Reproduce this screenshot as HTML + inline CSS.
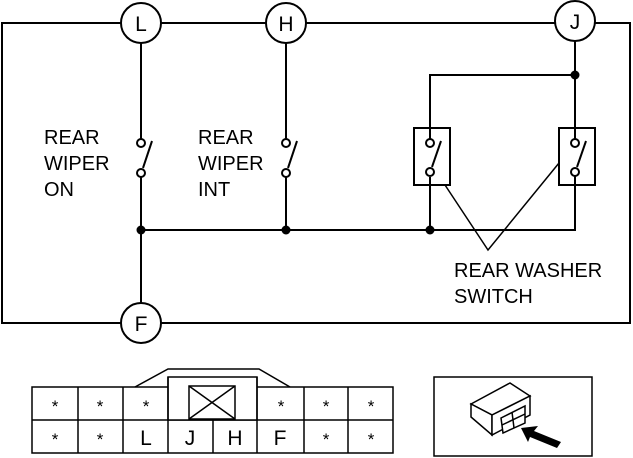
<!DOCTYPE html>
<html><head><style>body{margin:0;background:#fff}svg{display:block}text{font-family:"Liberation Sans",sans-serif;fill:#000}</style></head><body>
<svg width="633" height="458" viewBox="0 0 633 458" xmlns="http://www.w3.org/2000/svg">
<g stroke="#000" stroke-width="2" fill="none">
<rect x="2" y="23" width="628" height="300"/>
<line x1="141" y1="23" x2="141" y2="139"/>
<circle cx="141" cy="143" r="4" fill="#fff"/>
<circle cx="141" cy="173" r="4" fill="#fff"/>
<line x1="143" y1="168" x2="152" y2="141"/>
<line x1="141" y1="177" x2="141" y2="323"/>
<line x1="286" y1="23" x2="286" y2="139"/>
<circle cx="286" cy="143" r="4" fill="#fff"/>
<circle cx="286" cy="173" r="4" fill="#fff"/>
<line x1="288" y1="168" x2="297" y2="141"/>
<line x1="286" y1="177" x2="286" y2="230"/>
<polyline points="141,230 575,230 575,189"/>
<polyline points="575,23 575,139"/>
<polyline points="575,75 430,75 430,139"/>
<line x1="430" y1="177" x2="430" y2="230"/>
<rect x="414" y="128" width="36" height="57"/>
<rect x="559" y="128" width="36" height="57"/>
<circle cx="430" cy="143" r="4" fill="#fff"/>
<circle cx="430" cy="172" r="4" fill="#fff"/>
<line x1="432" y1="167" x2="441" y2="141"/>
<circle cx="575" cy="143" r="4" fill="#fff"/>
<circle cx="575" cy="172" r="4" fill="#fff"/>
<line x1="577" y1="167" x2="586" y2="141"/>
<line x1="575" y1="176" x2="575" y2="189"/>
<polyline points="445,185 488,250 559,163" stroke-width="1.5"/>
<circle cx="141" cy="23" r="20" fill="#fff"/>
<circle cx="286" cy="23" r="20" fill="#fff"/>
<circle cx="575" cy="21" r="20" fill="#fff"/>
<circle cx="141" cy="323" r="20" fill="#fff"/>
</g>
<g fill="#000">
<circle cx="141" cy="230" r="4.5"/><circle cx="286" cy="230" r="4.5"/><circle cx="430" cy="230" r="4.5"/><circle cx="575" cy="75" r="4.5"/>
</g>
<g font-size="21" text-anchor="middle">
<text x="141" y="31">L</text><text x="286" y="31">H</text><text x="575" y="29">J</text><text x="141" y="331">F</text>
</g>
<g font-size="20">
<text x="44" y="144">REAR</text><text x="44" y="170">WIPER</text><text x="44" y="196">ON</text>
<text x="198" y="144">REAR</text><text x="198" y="170">WIPER</text><text x="198" y="196">INT</text>
<text x="454" y="277">REAR WASHER</text><text x="454" y="303">SWITCH</text>
</g>
<g stroke="#000" stroke-width="1.5" fill="none">
<polyline points="135,387 168,369 259,369 290,387"/>
<rect x="32" y="387" width="361" height="66"/>
<line x1="32" y1="420" x2="393" y2="420"/>
<rect x="168" y="377" width="89" height="43" fill="#fff"/>
<line x1="78" y1="387" x2="78" y2="453"/><line x1="123" y1="387" x2="123" y2="453"/>
<line x1="168" y1="377" x2="168" y2="453"/><line x1="257" y1="377" x2="257" y2="453"/>
<line x1="213" y1="420" x2="213" y2="453"/><line x1="304" y1="387" x2="304" y2="453"/><line x1="348" y1="387" x2="348" y2="453"/>
<rect x="189" y="386" width="46" height="33"/>
<line x1="189" y1="386" x2="235" y2="419"/><line x1="235" y1="386" x2="189" y2="419"/>
</g>
<g font-size="17" text-anchor="middle">
<text x="55" y="412">*</text><text x="100" y="412">*</text><text x="146" y="412">*</text><text x="281" y="412">*</text><text x="326" y="412">*</text><text x="371" y="412">*</text>
<text x="55" y="445">*</text><text x="100" y="445">*</text><text x="326" y="445">*</text><text x="371" y="445">*</text>
</g>
<g font-size="21" text-anchor="middle">
<text x="146" y="445">L</text><text x="190" y="445">J</text><text x="235" y="445">H</text><text x="280" y="445">F</text>
</g>
<g stroke="#000" stroke-width="1.5" fill="#fff">
<rect x="434" y="377" width="158" height="79" fill="none"/>
<polygon points="471,404 510,383 530,396 492,415"/>
<polygon points="471,404 492,415 492,435 471,417"/>
<polygon points="492,415 530,396 530,415 492,435"/>
<polygon points="501,418 525,406 525,423 503,433"/>
<line x1="512" y1="412" x2="514" y2="428"/>
<line x1="502" y1="425" x2="525" y2="414"/>
</g>
<polygon points="521,428 538,426 534,431 561,442 557,448 530,437 528,442" fill="#000"/>
</svg>
</body></html>
